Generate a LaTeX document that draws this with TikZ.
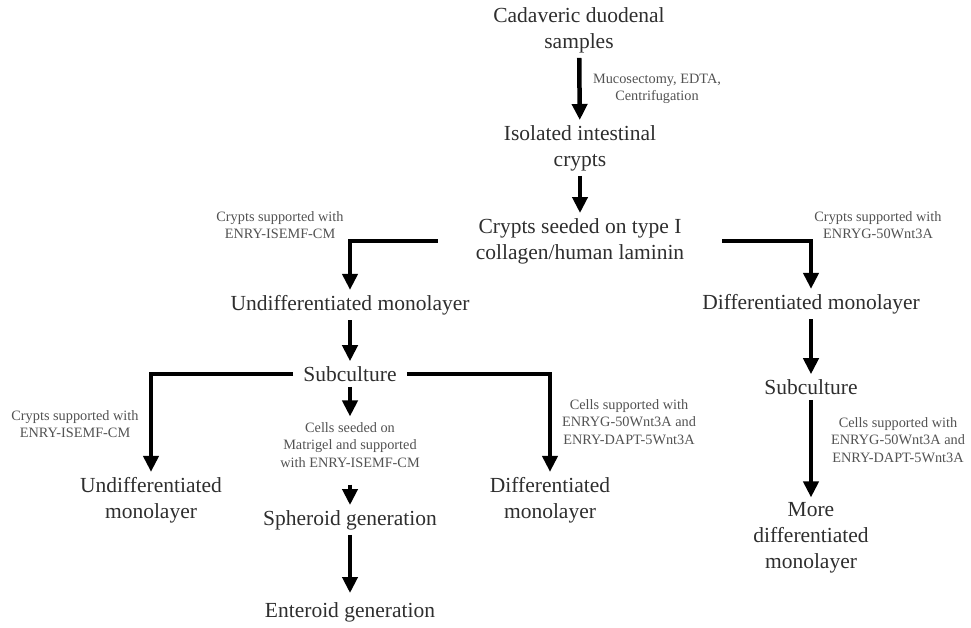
\documentclass[tikz,border=0pt]{standalone}
\usepackage{fontspec}
\setmainfont{Liberation Serif}
\usetikzlibrary{arrows.meta,positioning}
\tikzset{
  stage/.style={align=center, font=\fontsize{21.5}{26}\selectfont, text=black!82, inner sep=5pt},
  note/.style={align=center, font=\fontsize{14.3}{17.3}\selectfont, text=black!68, inner sep=2pt},
  flow/.style={line width=4.5pt, line join=miter, -{Triangle[width=15pt,length=16pt]}}
}
\begin{document}
\begin{tikzpicture}[x=1pt,y=-1pt]
  \useasboundingbox (0,0) rectangle (971,628);
  \node[stage] (cad) at (579,30) {Cadaveric duodenal\\samples};
  \node[stage] (iso) at (580,148) {Isolated intestinal\\crypts};
  \node[stage, inner xsep=38pt] (seed) at (580,241) {Crypts seeded on type I\\collagen/human laminin};
  \node[stage] (undif) at (350,305) {Undifferentiated monolayer};
  \node[stage] (dif) at (811,304) {Differentiated monolayer};
  \node[stage, inner xsep=10pt] (subL) at (350,374) {Subculture};
  \node[stage] (subR) at (811,387) {Subculture};
  \node[note] (cells) at (350,445) {Cells seeded on\\Matrigel and supported\\with ENRY-ISEMF-CM};
  \node[stage] (undifB) at (151,500) {Undifferentiated\\monolayer};
  \node[stage] (difB) at (550,500) {Differentiated\\monolayer};
  \node[stage] (spher) at (350,520) {Spheroid generation};
  \node[stage] (enter) at (350,612) {Enteroid generation};
  \node[stage] (more) at (811,538) {More\\differentiated\\monolayer};

  \node[note] (n1) at (657,89) {Mucosectomy, EDTA,\\Centrifugation};
  \node[note] (n2) at (280,225) {Crypts supported with\\ENRY-ISEMF-CM};
  \node[note] (n3) at (878,225) {Crypts supported with\\ENRYG-50Wnt3A};
  \node[note] (n4) at (75,424) {Crypts supported with\\ENRY-ISEMF-CM};
  \node[note] (n5) at (629,422) {Cells supported with\\ENRYG-50Wnt3A and\\ENRY-DAPT-5Wnt3A};
  \node[note] (n6) at (898,440) {Cells supported with\\ENRYG-50Wnt3A and\\ENRY-DAPT-5Wnt3A};

  \draw[flow] (cad) -- (iso);
  \draw[flow] (iso) -- (seed);
  \draw[flow] (seed.west) -| (undif.north);
  \draw[flow] (seed.east) -| (dif.north);
  \draw[flow] (undif) -- (subL);
  \draw[flow] (dif) -- (subR);
  \draw[flow] (subR) -- (more);
  \draw[flow] (subL.west) -| (undifB.north);
  \draw[flow] (subL.east) -| (difB.north);
  \draw[flow, shorten >=4pt] (subL) -- (cells);
  \draw[flow, shorten <=15pt] (cells) -- (spher);
  \draw[flow, shorten >=4pt] (spher) -- (enter);
\end{tikzpicture}
\end{document}
